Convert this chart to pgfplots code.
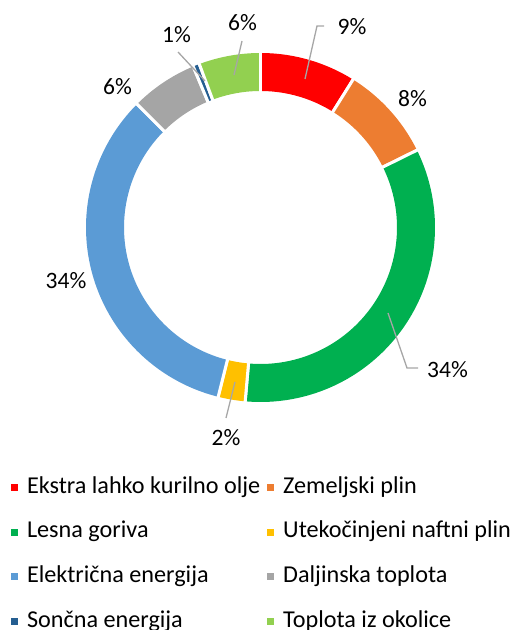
\documentclass[border=0pt]{standalone}
\usepackage{pgfplots}
\pgfplotsset{compat=1.18}
\usepackage{fontspec}
\setmainfont{Carlito}
\definecolor{cRed}{HTML}{FF0000}
\definecolor{cOrange}{HTML}{ED7D31}
\definecolor{cGreen}{HTML}{00B050}
\definecolor{cYellow}{HTML}{FFC000}
\definecolor{cBlue}{HTML}{5B9BD5}
\definecolor{cGray}{HTML}{A5A5A5}
\definecolor{cNavy}{HTML}{255E91}
\definecolor{cLGreen}{HTML}{92D050}
\definecolor{cLead}{HTML}{A6A6A6}
\def\cx{260.5}
\def\cy{402.5}
\def\R{155.5}
\gdef\cum{0}
\newcommand\slice[2]{%
  \pgfmathsetmacro\angA{90-3.6*(\cum+#1)}%
  \pgfmathsetmacro\angB{90-3.6*\cum}%
  \edef\doplot{\noexpand\addplot[draw=#2, line width=38bp, domain=\angA:\angB, samples=90, forget plot] ({\cx+\R*cos(x)},{\cy+\R*sin(x)});
  \noexpand\addplot[draw=white, line width=3bp, domain=130:181, samples=2, forget plot] ({\cx+x*cos(\angA)},{\cy+x*sin(\angA)});
  \noexpand\addplot[draw=white, line width=3bp, domain=130:181, samples=2, forget plot] ({\cx+x*cos(\angB)},{\cy+x*sin(\angB)});}%
  \doplot
  \pgfmathsetmacro\tmp{\cum+#1}\xdef\cum{\tmp}%
}
\newcommand\lbl{\fontsize{23.5bp}{28bp}\selectfont}
\newcommand\lgd{\fontsize{24.2bp}{29bp}\selectfont}
\begin{document}
\begin{tikzpicture}
\useasboundingbox (0,0) rectangle (517bp,630bp);
\clip (0,0) rectangle (517bp,630bp);
\begin{axis}[at={(0,0)}, anchor=south west, width=517bp, height=630bp, scale only axis,
  xmin=0, xmax=517, ymin=0, ymax=630, hide axis, clip=false,
  legend columns=2, legend cell align=left,
  legend image code/.code={\fill (0bp,-3.5bp) rectangle (7bp,3.5bp);},
  legend style={at={(axis cs:11,153)}, anchor=north west, draw=none, fill=none,
    inner sep=0pt, outer sep=0pt, font=\lgd, row sep=23.7bp,
    nodes={inner sep=0pt, text height=16bp, text depth=5bp},
    /tikz/every odd column/.append style={column sep=9bp},
    /tikz/every even column/.append style={column sep=7bp}}]
% shares in percent, clockwise from the top
\slice{8.9}{cRed}
\slice{8.8}{cOrange}
\slice{33.7}{cGreen}
\slice{2.5}{cYellow}
\slice{33.6}{cBlue}
\slice{6.2}{cGray}
\slice{0.6}{cNavy}
\slice{5.7}{cLGreen}
% leader lines
\draw[cLead, line width=1.3bp] (axis cs:305,551) -- (axis cs:317,604) -- (axis cs:324,604);
\draw[cLead, line width=1.3bp] (axis cs:234,555) -- (axis cs:242,589);
\draw[cLead, line width=1.3bp] (axis cs:178,578) -- (axis cs:205,549);
\draw[cLead, line width=1.3bp] (axis cs:388,317) -- (axis cs:407,262) -- (axis cs:418,262);
\draw[cLead, line width=1.3bp] (axis cs:235,248) -- (axis cs:226,212);
% data labels
\node[anchor=base, font=\lbl] at (axis cs:352,595) {9\%};
\node[anchor=base, font=\lbl] at (axis cs:412.5,523) {8\%};
\node[anchor=base, font=\lbl] at (axis cs:447.5,253) {34\%};
\node[anchor=base, font=\lbl] at (axis cs:226,184.5) {2\%};
\node[anchor=base, font=\lbl] at (axis cs:66,341.5) {34\%};
\node[anchor=base, font=\lbl] at (axis cs:117.5,535.5) {6\%};
\node[anchor=base, font=\lbl] at (axis cs:176.5,587.5) {1\%};
\node[anchor=base, font=\lbl] at (axis cs:242.5,599) {6\%};
% legend
\addlegendimage{fill=cRed, draw=none}
\addlegendentry{Ekstra lahko kurilno olje}
\addlegendimage{fill=cOrange, draw=none}
\addlegendentry{Zemeljski plin}
\addlegendimage{fill=cGreen, draw=none}
\addlegendentry{Lesna goriva}
\addlegendimage{fill=cYellow, draw=none}
\addlegendentry{Utekočinjeni naftni plin}
\addlegendimage{fill=cBlue, draw=none}
\addlegendentry{Električna energija}
\addlegendimage{fill=cGray, draw=none}
\addlegendentry{Daljinska toplota}
\addlegendimage{fill=cNavy, draw=none}
\addlegendentry{Sončna energija}
\addlegendimage{fill=cLGreen, draw=none}
\addlegendentry{Toplota iz okolice}
\end{axis}
\end{tikzpicture}
\end{document}
